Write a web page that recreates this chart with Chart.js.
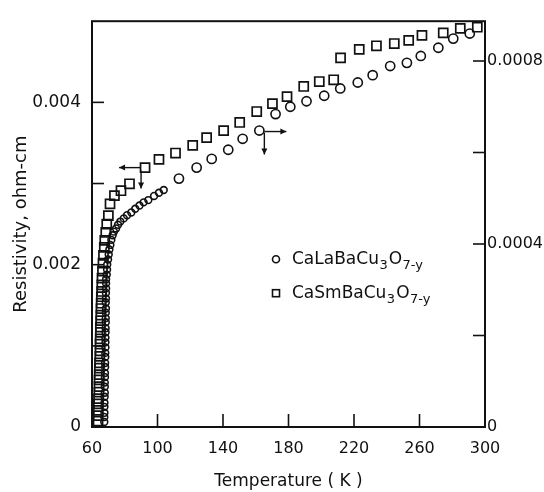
<!DOCTYPE html>
<html><head><meta charset="utf-8">
<script src="https://cdn.jsdelivr.net/npm/chart.js@4.4.1/dist/chart.umd.min.js"></script>
<style>html,body{margin:0;padding:0;background:#fff;}canvas{display:block;}</style>
</head><body>
<canvas id="c" width="544" height="492"></canvas>
<script>
// ---- data ----
const seriesNames = ['CaLaBaCu3O7-y', 'CaSmBaCu3O7-y'];

// CaLaBaCu3O7-y : circles, right axis (ohm-cm)
const laTemp = [
  67.5, 67.5, 67.6, 67.6, 67.6, 67.7, 67.8, 67.8, 67.8, 67.9, 67.9, 68.0, 68.0, 68.1, 68.1,
  68.2, 68.2, 68.2, 68.3, 68.3, 68.4, 68.4, 68.4, 68.5, 68.4, 68.5, 68.5, 68.6, 68.6,
  68.6, 69.0, 69.2, 69.3, 69.8, 70.2, 70.6, 71.2, 71.8, 72.6, 73.4, 74.7, 75.9, 77.3, 79.4,
  81.4, 84.0, 86.4, 89.0, 91.5, 94.4, 97.9, 100.9, 103.8, 113.1, 123.9, 133.1, 143.2, 152.0,
  162.2, 172.1, 181.1, 191.0, 201.8, 211.6, 222.3, 231.4, 242.1, 252.3, 260.8, 271.5, 280.6, 290.7
];
const laRes = [
  0.000011, 0.000022, 0.000031, 0.000044, 0.000053, 0.000066, 0.000075, 0.000088, 0.000097,
  0.000109, 0.000118, 0.000131, 0.000140, 0.000153, 0.000162, 0.000174, 0.000185, 0.000195,
  0.000207, 0.000216, 0.000229, 0.000238, 0.000250, 0.000259, 0.000272, 0.000281, 0.000293,
  0.000303, 0.000314,
  0.000323, 0.000333, 0.000344, 0.000355, 0.000366, 0.000377, 0.000388, 0.000398, 0.000409,
  0.000419, 0.000427, 0.000434, 0.000442, 0.000449, 0.000456, 0.000463, 0.000469, 0.000477,
  0.000484, 0.000491, 0.000496, 0.000505, 0.000512, 0.000518, 0.000543, 0.000567, 0.000586,
  0.000606, 0.000630, 0.000648, 0.000684, 0.000700, 0.000712, 0.000724, 0.000740, 0.000753,
  0.000769, 0.000789, 0.000796, 0.000811, 0.000829, 0.000849, 0.000860
];

// CaSmBaCu3O7-y : squares, left axis (ohm-cm)
const smTemp = [
  63.7, 63.7, 63.8, 63.9, 64.0, 64.2, 64.3, 64.3, 64.4, 64.5, 64.6, 64.8, 64.9, 64.9, 65.0,
  65.1, 65.1, 65.3, 65.4, 65.5, 65.6, 65.7, 65.9, 66.0, 66.1, 66.4, 66.7, 67.0, 67.5, 67.8,
  68.4, 69.0, 70.0, 71.0, 73.7, 77.7, 82.9, 92.4, 100.9, 111.0, 121.5, 130.0, 140.4, 150.2,
  160.6, 170.2, 179.1, 189.3, 198.8, 207.6, 211.8, 223.2, 233.7, 244.6, 253.4, 261.5, 274.5,
  284.9, 295.3
];
const smRes = [
  0.000073, 0.000140, 0.000205, 0.000285, 0.000350, 0.000430, 0.000498, 0.000580, 0.000645,
  0.000725, 0.000790, 0.000870, 0.000938, 0.001020, 0.001085, 0.001165, 0.001230, 0.001310,
  0.001378, 0.001460, 0.001525, 0.001605, 0.001670, 0.001752, 0.001835, 0.001920, 0.002018,
  0.002116, 0.002214, 0.002300, 0.002397, 0.002499, 0.002605, 0.002749, 0.002850, 0.002911,
  0.002997, 0.003196, 0.003297, 0.003376, 0.003470, 0.003566, 0.003651, 0.003752, 0.003887,
  0.003984, 0.004071, 0.004196, 0.004257, 0.004278, 0.004548, 0.004652, 0.004697, 0.004725,
  0.004764, 0.004826, 0.004856, 0.004911, 0.004926
];

// axes / ticks
const xTicks = [60, 100, 140, 180, 220, 260, 300];
const leftTicks = [0, 0.001, 0.002, 0.003, 0.004];
const leftLabelValues = [0, 0.002, 0.004];
const leftLabelTexts = ['0', '0.002', '0.004'];
const rightTicks = [0, 0.0002, 0.0004, 0.0006, 0.0008];
const rightLabelValues = [0, 0.0004, 0.0008];
const rightLabelTexts = ['0', '0.0004', '0.0008'];
const xRange = [60, 300];
const leftRange = [0, 0.005];
const rightRange = [0, 0.000887];
const xTitle = 'Temperature ( K )';
const yTitle = 'Resistivity, ohm-cm';
// temperatures of the points that carry the axis-indicating arrows
const laArrowTemp = 162.2;
const smArrowTemp = 92.4;

// ---- chart ----
const INK = '#111';
const FONT = 'DejaVu Sans';

function labelFor(values, texts) {
  return function (v) {
    for (let i = 0; i < values.length; i++) if (Math.abs(values[i] - v) < 1e-10) return texts[i];
    return '';
  };
}
function nearestIndex(arr, t) {
  let best = 0;
  for (let i = 0; i < arr.length; i++) if (Math.abs(arr[i] - t) < Math.abs(arr[best] - t)) best = i;
  return best;
}

function arrow(ctx, x1, y1, x2, y2) {
  ctx.beginPath(); ctx.moveTo(x1, y1); ctx.lineTo(x2, y2); ctx.stroke();
  const a = Math.atan2(y2 - y1, x2 - x1), h = 6, w = 3;
  ctx.beginPath();
  ctx.moveTo(x2, y2);
  ctx.lineTo(x2 - h * Math.cos(a) + w * Math.sin(a), y2 - h * Math.sin(a) - w * Math.cos(a));
  ctx.lineTo(x2 - h * Math.cos(a) - w * Math.sin(a), y2 - h * Math.sin(a) + w * Math.cos(a));
  ctx.closePath(); ctx.fill();
}

const framePlugin = {
  id: 'frame',
  afterDatasetsDraw(chart) {
    const ctx = chart.ctx, a = chart.chartArea;
    const sx = chart.scales.x, sy = chart.scales.y, sy2 = chart.scales.y2;
    ctx.save();
    ctx.strokeStyle = INK; ctx.fillStyle = INK; ctx.lineWidth = 2;
    ctx.strokeRect(a.left, a.top, a.right - a.left, a.bottom - a.top);
    ctx.lineWidth = 1.6;
    xTicks.forEach(v => {
      if (v <= xRange[0] || v >= xRange[1]) return;
      const px = sx.getPixelForValue(v);
      ctx.beginPath(); ctx.moveTo(px, a.bottom); ctx.lineTo(px, a.bottom - 13); ctx.stroke();
    });
    leftTicks.forEach(v => {
      if (v <= leftRange[0]) return;
      const py = sy.getPixelForValue(v);
      ctx.beginPath(); ctx.moveTo(a.left, py); ctx.lineTo(a.left + 12, py); ctx.stroke();
    });
    rightTicks.forEach(v => {
      if (v <= rightRange[0]) return;
      const py = sy2.getPixelForValue(v);
      ctx.beginPath(); ctx.moveTo(a.right, py); ctx.lineTo(a.right - 12, py); ctx.stroke();
    });
    // axis indicator arrows anchored to their data points
    ctx.lineWidth = 1.4;
    const pLa = chart.getDatasetMeta(0).data[nearestIndex(laTemp, laArrowTemp)];
    if (pLa) {
      arrow(ctx, pLa.x + 5, pLa.y + 1, pLa.x + 27, pLa.y + 1);
      arrow(ctx, pLa.x + 5, pLa.y + 2, pLa.x + 5, pLa.y + 24);
    }
    const pSm = chart.getDatasetMeta(1).data[nearestIndex(smTemp, smArrowTemp)];
    if (pSm) {
      arrow(ctx, pSm.x - 5, pSm.y, pSm.x - 26, pSm.y);
      arrow(ctx, pSm.x - 4, pSm.y + 3, pSm.x - 4, pSm.y + 21);
    }
    ctx.restore();
  }
};

function drawFormula(ctx, x, y, text) {
  // text like CaLaBaCu3O7-y : subscripts after "Cu" and after "O"
  const m = text.match(/^(.*Cu)(\d)(O)(.*)$/);
  const parts = m ? [[m[1], 0], [m[2], 1], [m[3], 0], [m[4], 1]] : [[text, 0]];
  ctx.textBaseline = 'middle'; ctx.textAlign = 'left';
  parts.forEach(([s, sub]) => {
    ctx.font = (sub ? '13px ' : '17px ') + FONT;
    ctx.fillText(s, x, y + (sub ? 6 : 0));
    x += ctx.measureText(s).width + (sub ? 1 : 0.5);
  });
}

const legendPlugin = {
  id: 'innerLegend',
  afterDraw(chart) {
    const ctx = chart.ctx, a = chart.chartArea;
    const mx = a.left + 184, tx = a.left + 200;
    const y1 = a.top + 238, y2 = a.top + 272;
    ctx.save();
    ctx.strokeStyle = INK; ctx.fillStyle = INK; ctx.lineWidth = 1.6;
    ctx.beginPath(); ctx.arc(mx, y1, 3.5, 0, Math.PI * 2); ctx.stroke();
    ctx.strokeRect(mx - 3.5, y2 - 3.5, 7, 7);
    drawFormula(ctx, tx, y1, seriesNames[0]);
    drawFormula(ctx, tx, y2, seriesNames[1]);
    ctx.restore();
  }
};

new Chart(document.getElementById('c'), {
  type: 'scatter',
  data: {
    datasets: [
      {
        label: seriesNames[0],
        data: laTemp.map((t, i) => ({ x: t, y: laRes[i] })),
        yAxisID: 'y2',
        pointStyle: 'circle',
        pointRadius: c => (c.raw && c.raw.x < 106 ? 3.4 : 4.6),
        pointBorderWidth: 1.6,
        pointBorderColor: INK,
        pointBackgroundColor: 'rgba(0,0,0,0)',
        showLine: false,
        clip: false
      },
      {
        label: seriesNames[1],
        data: smTemp.map((t, i) => ({ x: t, y: smRes[i] })),
        yAxisID: 'y',
        pointStyle: 'rect',
        pointRadius: 6.4,
        pointBorderWidth: 1.7,
        pointBorderColor: INK,
        pointBackgroundColor: 'rgba(0,0,0,0)',
        showLine: false,
        clip: false
      }
    ]
  },
  options: {
    responsive: false,
    animation: false,
    layout: { padding: { top: 18, left: 0, right: 0, bottom: 0 } },
    plugins: { legend: { display: false }, tooltip: { enabled: false } },
    scales: {
      x: {
        type: 'linear', position: 'bottom', min: xRange[0], max: xRange[1],
        afterBuildTicks: s => { s.ticks = xTicks.map(v => ({ value: v })); },
        afterFit: s => { s.height = 65; },
        grid: { display: false, drawTicks: false },
        border: { display: false },
        ticks: { autoSkip: false, maxRotation: 0, padding: 12, color: INK,
                 font: { family: FONT, size: 16 }, callback: v => String(v) },
        title: { display: true, text: xTitle, color: INK, font: { family: FONT, size: 17 },
                 padding: { top: 0, bottom: 0 } }
      },
      y: {
        type: 'linear', position: 'left', min: leftRange[0], max: leftRange[1],
        afterBuildTicks: s => { s.ticks = leftTicks.map(v => ({ value: v })); },
        afterFit: s => { s.width = 92; },
        grid: { display: false, drawTicks: false },
        border: { display: false },
        ticks: { autoSkip: false, padding: 11, color: INK,
                 font: { family: FONT, size: 17 }, callback: labelFor(leftLabelValues, leftLabelTexts) },
        title: { display: true, text: yTitle, color: INK, font: { family: FONT, size: 18 },
                 padding: { top: 11, bottom: 0 } }
      },
      y2: {
        type: 'linear', position: 'right', min: rightRange[0], max: rightRange[1],
        afterBuildTicks: s => { s.ticks = rightTicks.map(v => ({ value: v })); },
        afterFit: s => { s.width = 59; },
        grid: { display: false, drawTicks: false },
        border: { display: false },
        ticks: { autoSkip: false, padding: 2, color: INK,
                 font: { family: FONT, size: 16 }, callback: labelFor(rightLabelValues, rightLabelTexts) }
      }
    }
  },
  plugins: [framePlugin, legendPlugin]
});
</script>
</body></html>
